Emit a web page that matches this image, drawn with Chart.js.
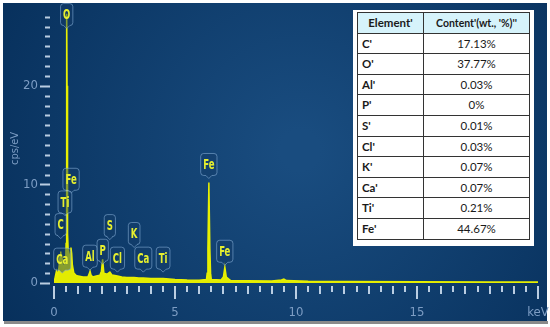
<!DOCTYPE html>
<html>
<head>
<meta charset="utf-8">
<script src="https://cdn.jsdelivr.net/npm/chart.js@4.4.1/dist/chart.umd.min.js"></script>
<style>
  body { margin: 0; background: #fff; }
  #wrap { position: relative; width: 550px; height: 327px; }
  #tbl {
    position: absolute; left: 353px; top: 10px; width: 181px; height: 236px;
    background: #fff; box-sizing: border-box; padding: 2px 4px;
  }
  #tbl table { border-collapse: collapse; table-layout: fixed; width: 172px; font-family: Lato, "Open Sans", sans-serif; font-size: 11.5px; color: #1a1a1a; }
  #tbl td, #tbl th { border: 1.5px solid #333; padding: 0 4px; height: 19.6px; line-height: 1; white-space: nowrap; overflow: hidden; }
  #tbl th { background: #d6f3fb; font-weight: bold; text-align: center; }
  #tbl th.c2 { font-size: 10.5px; padding: 0 1px; }
  #tbl td.el { font-weight: bold; text-align: left; }
  #tbl td.val { text-align: center; }
</style>
</head>
<body>
<div id="wrap">
  <canvas id="myChart" width="550" height="327"></canvas>
  <div id="tbl"><table id="contentTable"><colgroup><col style="width:66px"><col style="width:106px"></colgroup></table></div>
</div>
<script>
// spectrum (keV, cps/eV)
const energies = [0, 0.05, 0.1, 0.15, 0.2, 0.25, 0.28, 0.31, 0.34, 0.38, 0.42, 0.45, 0.48, 0.5, 0.52, 0.525, 0.54, 0.56,
  0.6, 0.65, 0.68, 0.7, 0.73, 0.76, 0.82, 0.9, 1.0, 1.2, 1.4, 1.45, 1.49, 1.53, 1.6, 1.75, 1.9, 1.96, 2.01, 2.06,
  2.2, 2.31, 2.4, 2.62, 2.8, 3.0, 3.31, 3.5, 3.69, 4.0, 4.51, 5.0, 5.5, 6.0, 6.3, 6.33, 6.36, 6.4, 6.44, 6.47, 6.5,
  6.9, 7.0, 7.06, 7.12, 7.3, 8.0, 9.0, 9.4, 9.5, 9.6, 10.5, 12, 15, 18, 20];
const counts = [0, 0.6, 1.2, 0.8, 1.5, 2.6, 3.2, 2.0, 2.4, 1.4, 1.8, 2.2, 1.6, 4, 20, 29, 20, 5,
  2.5, 2.8, 3.3, 3.6, 3.0, 1.8, 1.0, 0.8, 0.7, 0.6, 0.6, 0.9, 1.2, 0.8, 0.6, 0.7, 0.8, 1.2, 2.4, 1.0,
  0.9, 1.1, 0.8, 0.7, 0.6, 0.55, 0.55, 0.5, 0.5, 0.45, 0.45, 0.35, 0.3, 0.28, 0.35, 1.0, 3.5, 10.2, 3.5, 1.0, 0.35,
  0.3, 0.6, 1.6, 0.6, 0.25, 0.22, 0.2, 0.3, 0.4, 0.25, 0.18, 0.15, 0.12, 0.1, 0.1];

// peak markers: element, line energy (keV), value where the marker pointer sits (cps/eV)
const peakNames = ['O', 'Fe', 'Ti', 'C', 'Ca', 'Al', 'P', 'S', 'Cl', 'K', 'Ca', 'Ti', 'Fe', 'Fe'];
const peakEnergies = [0.525, 0.705, 0.452, 0.277, 0.341, 1.486, 2.013, 2.307, 2.621, 3.312, 3.69, 4.508, 6.398, 7.057];
const peakTips = [25.8, 9.1, 6.8, 4.5, 1.0, 1.3, 1.9, 4.4, 1.1, 3.6, 1.1, 1.1, 10.6, 1.8];

const xTickLabels = ['0', '5', '10', '15', 'keV'];
const yTickLabels = ['0', '10', '20'];

// table
const tableElements = ["C'", "O'", "Al'", "P'", "S'", "Cl'", "K'", "Ca'", "Ti'", "Fe'"];
const tableContent = ['17.13%', '37.77%', '0.03%', '0%', '0.01%', '0.03%', '0.07%', '0.07%', '0.21%', '44.67%'];

const tbl = document.getElementById('contentTable');
let html = "<tr><th>Element'</th><th class=\"c2\">Content'(wt., '%)''</th></tr>";
tableElements.forEach(function(el, i) {
  html += '<tr><td class="el">' + el + '</td><td class="val">' + tableContent[i] + '</td></tr>';
});
tbl.insertAdjacentHTML('beforeend', html);

const axisFont = '"Liberation Sans Narrow", "DejaVu Sans Condensed", "Roboto Condensed", sans-serif';
const tickColor = 'rgba(205, 222, 240, 0.9)';

const backgroundPlugin = {
  id: 'bg',
  beforeDraw(chart) {
    const ctx = chart.ctx;
    ctx.save();
    ctx.fillStyle = '#ffffff';
    ctx.fillRect(0, 0, chart.width, chart.height);
    ctx.fillStyle = '#8a8a8a';
    ctx.fillRect(4, 321, 544, 3);
    const g = ctx.createRadialGradient(300, 150, 20, 300, 150, 340);
    g.addColorStop(0, '#194c7f');
    g.addColorStop(1, '#07305c');
    ctx.fillStyle = g;
    ctx.fillRect(3, 3, 544, 318);
    ctx.restore();
  }
};

const tickMarks = {
  id: 'tickMarks',
  afterDraw(chart) {
    const ctx = chart.ctx;
    const xs = chart.scales.x, ys = chart.scales.y;
    const area = chart.chartArea;
    ctx.save();
    ctx.strokeStyle = tickColor;
    ctx.lineWidth = 2;
    xs.ticks.forEach(function(t) {
      const px = Math.round(xs.getPixelForValue(t.value));
      let len = 6;
      if (t.value % 5 === 0) len = 13;
      else if (t.value % 1 === 0) len = 8;
      ctx.beginPath();
      ctx.moveTo(px, area.bottom + 3);
      ctx.lineTo(px, area.bottom + 3 + len);
      ctx.stroke();
    });
    ys.ticks.forEach(function(t) {
      const py = Math.round(ys.getPixelForValue(t.value)) + 0.5;
      const len = t.value % 10 === 0 ? 10 : 5;
      ctx.beginPath();
      ctx.moveTo(area.left - 4, py);
      ctx.lineTo(area.left - 4 - len, py);
      ctx.stroke();
    });
    ctx.restore();
  }
};

const peakMarkers = {
  id: 'peakMarkers',
  afterDatasetsDraw(chart) {
    const ctx = chart.ctx;
    const xs = chart.scales.x, ys = chart.scales.y;
    ctx.save();
    ctx.font = 'bold 14px ' + axisFont;
    ctx.textAlign = 'center';
    ctx.textBaseline = 'middle';
    peakNames.forEach(function(name, i) {
      const px = xs.getPixelForValue(peakEnergies[i]);
      const tip = ys.getPixelForValue(peakTips[i]);
      const tw = ctx.measureText(name).width * 0.68;
      const w = Math.max(tw + 5, 11);
      const h = 22;
      const bottom = tip - 3;
      const top = bottom - h;
      const l = px - w / 2, r = px + w / 2, rad = 3;
      ctx.beginPath();
      ctx.moveTo(l + rad, top);
      ctx.lineTo(r - rad, top);
      ctx.quadraticCurveTo(r, top, r, top + rad);
      ctx.lineTo(r, bottom - rad);
      ctx.quadraticCurveTo(r, bottom, r - rad, bottom);
      ctx.lineTo(px + 3, bottom);
      ctx.lineTo(px, tip);
      ctx.lineTo(px - 3, bottom);
      ctx.lineTo(l + rad, bottom);
      ctx.quadraticCurveTo(l, bottom, l, bottom - rad);
      ctx.lineTo(l, top + rad);
      ctx.quadraticCurveTo(l, top, l + rad, top);
      ctx.closePath();
      ctx.fillStyle = 'rgba(20, 60, 105, 0.45)';
      ctx.fill();
      ctx.strokeStyle = 'rgba(140, 180, 220, 0.55)';
      ctx.lineWidth = 1;
      ctx.stroke();
      ctx.fillStyle = '#e6ef2e';
      ctx.fillText(name, px, top + h / 2 + 1, tw);
    });
    ctx.restore();
  }
};

const points = energies.map(function(e, i) { return { x: e, y: counts[i] }; });

const chartCtx = document.getElementById('myChart').getContext('2d');
const myChart = new Chart(chartCtx, {
  type: 'line',
  data: {
    datasets: [{
      label: 'Spectrum',
      data: points,
      borderColor: '#e8f000',
      backgroundColor: '#e3ec00',
      borderWidth: 1.5,
      pointRadius: 0,
      fill: 'origin',
      tension: 0
    }]
  },
  options: {
    responsive: false,
    animation: false,
    layout: { padding: { left: 0, right: 12, top: 10, bottom: 0 } },
    plugins: { legend: { display: false }, tooltip: { enabled: false } },
    scales: {
      x: {
        type: 'linear',
        min: 0,
        max: 20,
        border: { display: false },
        grid: { drawOnChartArea: false, color: 'transparent', tickLength: 16 },
        ticks: {
          stepSize: 0.5,
          autoSkip: false,
          maxRotation: 0,
          padding: 6,
          color: '#7d9dc4',
          font: { family: axisFont, size: 13 },
          callback: function(v) { return v % 5 === 0 ? xTickLabels[v / 5] : ''; }
        },
        afterFit: function(s) { s.height = 44; s.paddingRight = 0; s.paddingLeft = 0; }
      },
      y: {
        min: 0,
        max: 27.3,
        border: { display: false },
        grid: { drawOnChartArea: false, color: 'transparent', tickLength: 10 },
        ticks: {
          stepSize: 1,
          autoSkip: false,
          includeBounds: false,
          padding: 6,
          color: '#7d9dc4',
          font: { family: axisFont, size: 13 },
          callback: function(v) { return v % 10 === 0 ? yTickLabels[v / 10] : ''; }
        },
        title: {
          display: true,
          text: 'cps/eV',
          color: '#7d9dc4',
          font: { family: axisFont, size: 11 },
          padding: { top: 9, bottom: 0 }
        },
        afterFit: function(s) { s.width = 54; }
      }
    }
  },
  plugins: [backgroundPlugin, tickMarks, peakMarkers]
});
</script>
</body>
</html>
